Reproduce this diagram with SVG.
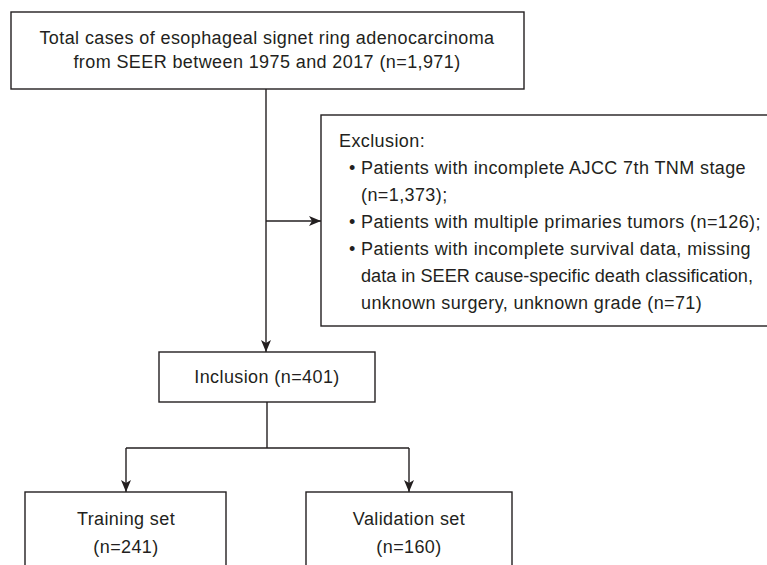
<svg xmlns="http://www.w3.org/2000/svg" width="767" height="565" viewBox="0 0 767 565">
<defs>
<style>
.box{fill:#fff;stroke:#231f20;stroke-width:1.4}
.ln{fill:none;stroke:#231f20;stroke-width:1.4}
text{font-family:"Liberation Sans",Arial,sans-serif;font-size:18px;letter-spacing:0.4px;fill:#231f20}
.c{text-anchor:middle}
.ns{letter-spacing:0}
</style>
<marker id="ah" viewBox="0 0 12 10" refX="12" refY="5" markerWidth="12" markerHeight="10" markerUnits="userSpaceOnUse" orient="auto">
<path d="M0,0 L12,5 L0,10 L3,5 Z" fill="#231f20"/>
</marker>
</defs>
<rect width="767" height="565" fill="#fff"/>
<g id="connectors">
<line class="ln" x1="266" y1="89" x2="266" y2="352" marker-end="url(#ah)"/>
<line class="ln" x1="266" y1="221" x2="321" y2="221" marker-end="url(#ah)"/>
<polyline class="ln" points="267,402 267,448"/>
<polyline class="ln" points="126,448 409,448"/>
<line class="ln" x1="126" y1="448" x2="126" y2="492" marker-end="url(#ah)"/>
<line class="ln" x1="409" y1="448" x2="409" y2="492" marker-end="url(#ah)"/>
</g>
<g id="total">
<rect class="box" x="11" y="12" width="513" height="77"/>
<text class="c" x="267" y="44">Total cases of esophageal signet ring adenocarcinoma</text>
<text class="c" x="267" y="68">from SEER between 1975 and 2017 (n=1,971)</text>
</g>
<g id="exclusion">
<rect class="box" x="321" y="115" width="447" height="211"/>
<text x="339" y="147">Exclusion:</text>
<text x="349" y="174">•</text>
<text x="361" y="174">Patients with incomplete AJCC 7th TNM stage</text>
<text x="361" y="201">(n=1,373);</text>
<text x="349" y="228">•</text>
<text x="361" y="228">Patients with multiple primaries tumors (n=126);</text>
<text x="349" y="255">•</text>
<text x="361" y="255">Patients with incomplete survival data, missing</text>
<text class="ns" x="361" y="282" textLength="392" lengthAdjust="spacingAndGlyphs">data in SEER cause-specific death classification,</text>
<text x="361" y="309">unknown surgery, unknown grade (n=71)</text>
</g>
<g id="inclusion">
<rect class="box" x="159" y="352" width="216" height="50"/>
<text class="c" x="267" y="383">Inclusion (n=401)</text>
</g>
<g id="training">
<rect class="box" x="25" y="492" width="201" height="80"/>
<text class="c" x="126" y="525">Training set</text>
<text class="c" x="126" y="553">(n=241)</text>
</g>
<g id="validation">
<rect class="box" x="306" y="492" width="206" height="80"/>
<text class="c" x="409" y="525">Validation set</text>
<text class="c" x="409" y="553">(n=160)</text>
</g>
</svg>
